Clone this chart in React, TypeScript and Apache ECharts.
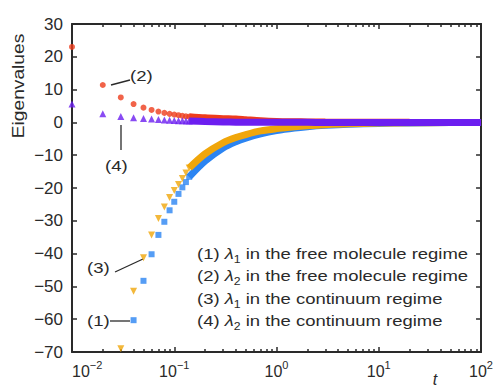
import React, { useEffect, useRef } from "react";
import * as echarts from "echarts";

// ---- data ----
const tSparse = [0.01, 0.02, 0.03, 0.04, 0.05, 0.06, 0.07, 0.08, 0.09, 0.1, 0.11, 0.12, 0.13, 0.14];
const lambda1FreeSparse = [null, null, null, -60.3, -48.3, -40.2, -34.3, -30.3, -26.8, -24.2, -21.8, -19.8, -18.2, -16.6];
const lambda2FreeSparse = [23, 11.4, 7.6, 5.6, 4.5, 3.8, 3.3, 2.9, 2.6, 2.4, 2.2, 2.0, 1.85, 1.75];
const lambda1ContSparse = [null, null, -69, -51.5, -41.3, -34.3, -29.3, -25.8, -22.9, -20.8, -18.9, -17.1, -15.4, -13.9];
const lambda2ContSparse = [5.6, 2.6, 1.8, 1.45, 1.2, 1.0, 0.85, 0.75, 0.65, 0.58, 0.52, 0.48, 0.44, 0.41];

const tDense = [0.14, 0.2, 0.3, 0.4, 0.5, 0.7, 1, 1.5, 2, 3, 5, 10, 20, 50, 100];
const lambda1FreeDense = [-16.6, -11.8, -7.8, -5.9, -4.8, -3.5, -2.5, -1.7, -1.3, -0.9, -0.55, -0.3, -0.15, -0.06, -0.03];
const lambda2FreeDense = [1.75, 1.4, 1.15, 1.0, 0.8, 0.5, 0.3, 0.2, 0.15, 0.1, 0.06, 0.03, 0.01, 0.005, 0];
const lambda1ContDense = [-13.9, -9.6, -6.2, -4.6, -3.7, -2.6, -1.9, -1.3, -1.0, -0.7, -0.42, -0.22, -0.11, -0.05, -0.02];
const lambda2ContDense = [0.41, 0.25, 0.12, 0.06, 0.04, 0.03, 0.02, 0.01, 0.01, 0, 0, 0, 0, 0, 0];

const xTickExponents = [-2, -1, 0, 1, 2];
const yMin = -70;
const yMax = 30;
const yInterval = 10;

const legendLines = [
  ["(1) ", "1", " in the free molecule regime"],
  ["(2) ", "2", " in the free molecule regime"],
  ["(3) ", "1", " in the continuum regime"],
  ["(4) ", "2", " in the continuum regime"],
];
const annotationLabels = ["(1)", "(2)", "(3)", "(4)"];

const BLUE = "#2b84f2";
const RED = "#ee3c1c";
const ORANGE = "#f0a60a";
const PURPLE = "#6c1ef0";
const INK = "#2a2a2a";
const FONT = "Liberation Sans, Arial, sans-serif";

const pairs = (ts: number[], vs: (number | null)[]) =>
  ts.map((t, i) => [t, vs[i]]).filter((p) => p[1] !== null);

export default function App() {
  const ref = useRef<HTMLDivElement>(null);
  useEffect(() => {
    if (!ref.current) return;
    const chart = echarts.init(ref.current, null, { renderer: "svg" });
    const majors = xTickExponents.map((e) => Math.pow(10, e));
    const minors: number[] = [];
    for (let i = 0; i < xTickExponents.length - 1; i++) {
      for (let k = 2; k <= 9; k++) minors.push(k * Math.pow(10, xTickExponents[i]));
    }
    const axisLineStyle = { color: INK, width: 2 };
    const baseX = {
      type: "log",
      logBase: 10,
      min: 0.01,
      max: 100,
      splitLine: { show: false },
      axisLabel: { show: false },
    };
    const mkX = (position: string, major: boolean, line: boolean, labels: boolean) => ({
      ...baseX,
      position,
      axisLine: { show: line, onZero: false, lineStyle: axisLineStyle },
      axisTick: {
        show: true,
        inside: true,
        length: major ? 5 : 3,
        customValues: major ? majors : minors,
        lineStyle: { color: INK, width: 1.5 },
      },
      axisLabel: labels
        ? {
            show: true,
            customValues: majors,
            margin: 7,
            alignMinLabel: "left",
            formatter: (v: number) => {
              const e = Math.round(Math.log10(v));
              return `{b|10}{s|${e < 0 ? "\u2212" : ""}${Math.abs(e)}}`;
            },
            rich: {
              b: { fontSize: 16, fontFamily: FONT, color: INK, lineHeight: 20, verticalAlign: "bottom" },
              s: { fontSize: 11, fontFamily: FONT, color: INK, lineHeight: 11, verticalAlign: "top" },
            },
          }
        : { show: false },
    });
    const mkY = (position: string, labels: boolean) => ({
      type: "value",
      position,
      min: yMin,
      max: yMax,
      interval: yInterval,
      splitLine: { show: false },
      axisLine: { show: true, onZero: false, lineStyle: axisLineStyle },
      axisTick: { show: true, inside: true, length: 5, lineStyle: { color: INK, width: 1.5 } },
      axisLabel: labels
        ? {
            show: true,
            fontSize: 17,
            fontFamily: FONT,
            color: INK,
            margin: 9,
            formatter: (v: number) => String(v).replace("-", "\u2212"),
          }
        : { show: false },
    });

    const band = (data: any, color: string) => ({
      type: "line",
      data,
      symbol: "none",
      smooth: 0.3,
      xAxisIndex: 0,
      yAxisIndex: 0,
      lineStyle: { color, width: 7 },
      silent: true,
    });
    const dots = (data: any, color: string, symbol: string, size: number, rotate = 0) => ({
      type: "scatter",
      data,
      symbol,
      symbolSize: size,
      symbolRotate: rotate,
      xAxisIndex: 0,
      yAxisIndex: 0,
      itemStyle: { color },
      silent: true,
    });

    const textStyle = (text: string, extra: any = {}) => ({
      text,
      fontSize: 15,
      fontFamily: FONT,
      fill: INK,
      ...extra,
    });

    const legendGraphics = legendLines.map((l, i) => ({
      type: "text",
      x: 197,
      y: 254 + i * 22.5,
      scaleX: 1.23,
      style: {
        text: `{n|${l[0]}}{i|\u03bb}{s|${l[1]}}{n|${l[2]}}`,
        fontSize: 15,
        fontFamily: FONT,
        fill: INK,
        align: "left",
        verticalAlign: "middle",
        rich: {
          n: { fontSize: 15, fontFamily: FONT, fill: INK, lineHeight: 20, verticalAlign: "middle" },
          i: { fontSize: 15, fontFamily: FONT, fill: INK, fontStyle: "italic", lineHeight: 20, verticalAlign: "middle" },
          s: { fontSize: 10, fontFamily: FONT, fill: INK, lineHeight: 10, verticalAlign: "bottom" },
        },
      },
    }));

    const line = (x1: number, y1: number, x2: number, y2: number) => ({
      type: "line",
      shape: { x1, y1, x2, y2 },
      style: { stroke: INK, lineWidth: 1.3 },
    });
    const label = (text: string, x: number, y: number) => ({
      type: "text",
      x,
      y,
      scaleX: 1.2,
      style: textStyle(text, { fontSize: 15.5, align: "left", verticalAlign: "middle" }),
    });

    chart.setOption({
      animation: false,
      backgroundColor: "#ffffff",
      grid: { left: 72, right: 10, top: 24, bottom: 37, containLabel: false },
      xAxis: [
        mkX("bottom", true, true, true),
        mkX("bottom", false, false, false),
        mkX("top", true, true, false),
        mkX("top", false, false, false),
      ],
      yAxis: [mkY("left", true), mkY("right", false)],
      series: [
        band(pairs(tDense, lambda1FreeDense), BLUE),
        dots(pairs(tSparse, lambda1FreeSparse), BLUE, "rect", 6),
        band(pairs(tDense, lambda2FreeDense), RED),
        dots(pairs(tSparse, lambda2FreeSparse), RED, "circle", 6),
        band(pairs(tDense, lambda1ContDense), ORANGE),
        dots(pairs(tSparse, lambda1ContSparse), ORANGE, "triangle", 7, 180),
        band(pairs(tDense, lambda2ContDense), PURPLE),
        dots(pairs(tSparse, lambda2ContSparse), PURPLE, "triangle", 7),
      ],
      graphic: [
        {
          type: "text",
          x: 19,
          y: 86,
          rotation: Math.PI / 2,
          scaleX: 1.2,
          style: textStyle("Eigenvalues", { fontSize: 16, align: "center", verticalAlign: "middle" }),
        },
        {
          type: "text",
          x: 435,
          y: 379,
          style: textStyle("t", { fontStyle: "italic", fontSize: 16, align: "center", verticalAlign: "middle" }),
        },
        // (2)
        line(111, 85, 130, 80),
        label(annotationLabels[1], 130, 76),
        // (4)
        line(121, 125, 121, 150),
        label(annotationLabels[3], 105, 166),
        // (3)
        line(115, 272, 143, 259),
        label(annotationLabels[2], 87, 268),
        // (1)
        line(110, 321, 130, 321),
        label(annotationLabels[0], 87, 321),
        ...legendGraphics,
      ],
    });
    return () => chart.dispose();
  }, []);
  return (
    <div
      ref={ref}
      style={{ position: "fixed", left: 0, top: 0, width: 496, height: 389, background: "#fff" }}
    />
  );
}
